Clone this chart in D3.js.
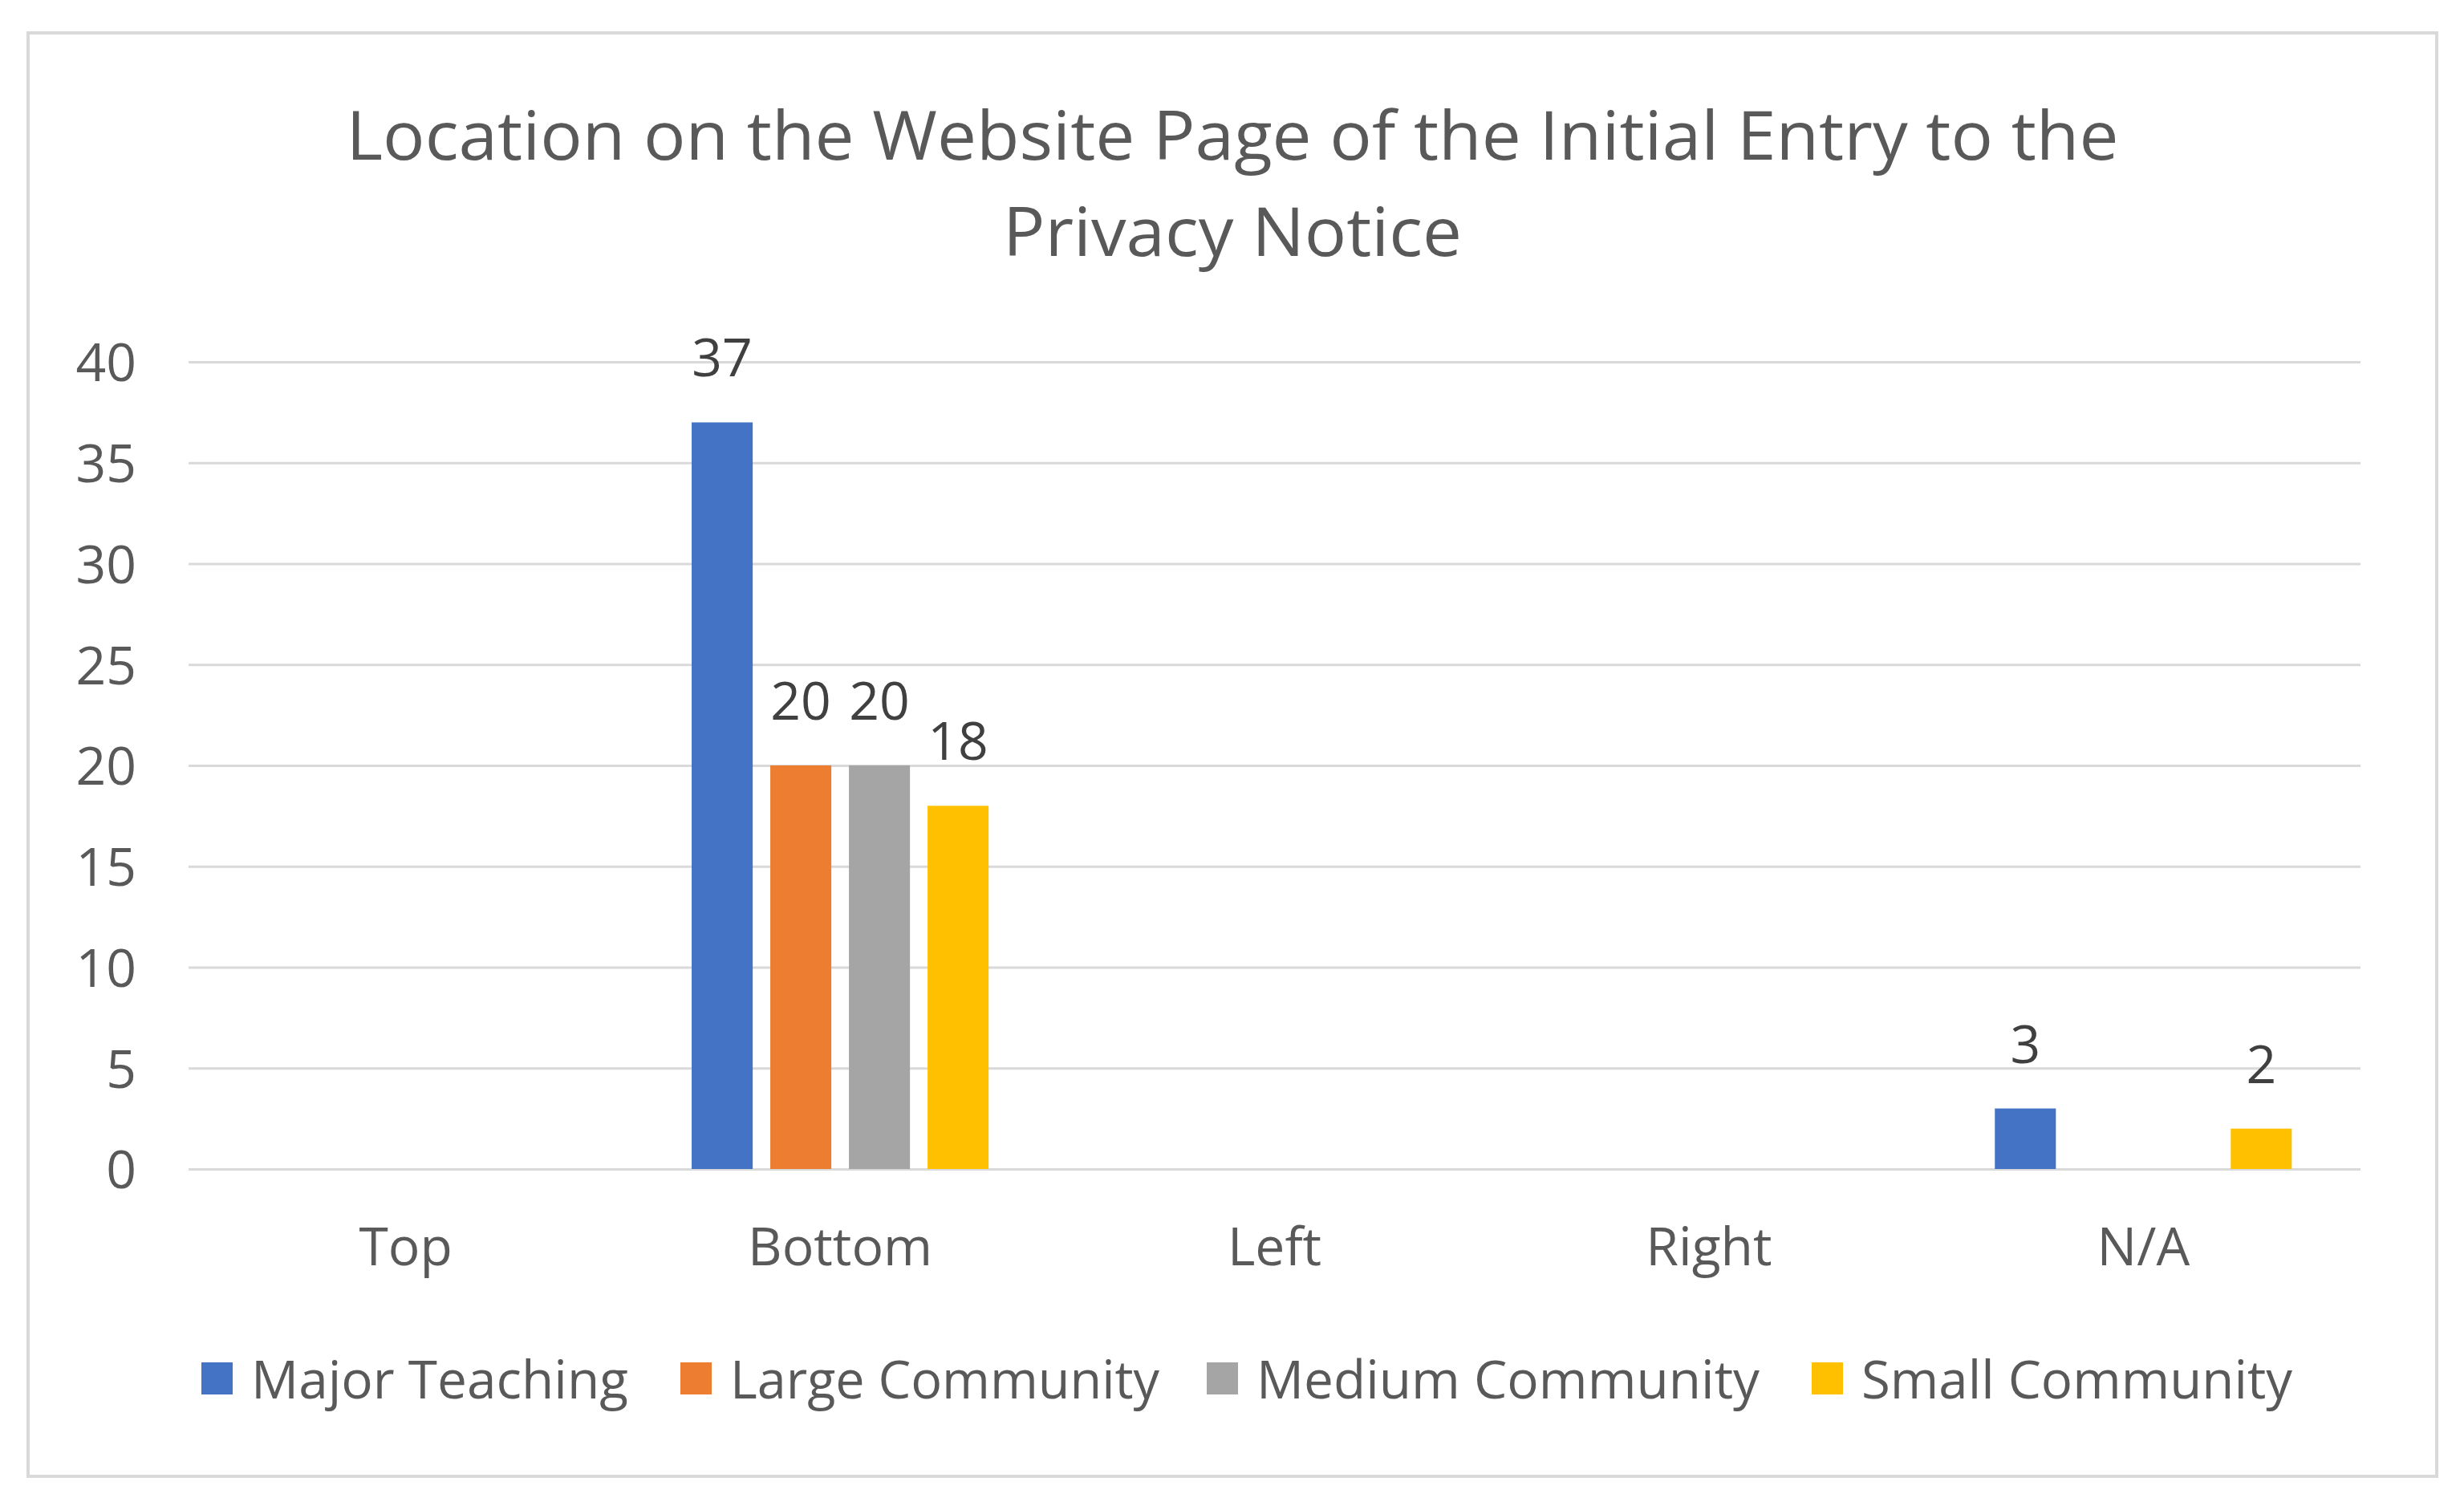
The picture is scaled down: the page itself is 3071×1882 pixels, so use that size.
<!DOCTYPE html>
<html><head><meta charset="utf-8">
<script src="https://cdn.jsdelivr.net/npm/d3@7"></script>
<style>html,body{margin:0;padding:0;background:#fff;}svg{display:block;}</style>
</head><body>
<script>
const categories = ["Top", "Bottom", "Left", "Right", "N/A"];
const seriesNames = ["Major Teaching", "Large Community", "Medium Community", "Small Community"];
const majorTeaching   = [null, 37, null, null, 3];
const largeCommunity  = [null, 20, null, null, null];
const mediumCommunity = [null, 20, null, null, null];
const smallCommunity  = [null, 18, null, null, 2];
const seriesValues = [majorTeaching, largeCommunity, mediumCommunity, smallCommunity];
const colors = ["#4472C4", "#ED7D31", "#A5A5A5", "#FFC000"];
const yTicks = [0, 5, 10, 15, 20, 25, 30, 35, 40];
const titleLines = ["Location on the Website Page of the Initial Entry to the", "Privacy Notice"];

const W = 3071, H = 1882;
const font = "'Open Sans', 'Noto Sans', sans-serif";
const svg = d3.select("body").append("svg").attr("width", W).attr("height", H);
svg.append("rect").attr("x", 0).attr("y", 0).attr("width", W).attr("height", H).attr("fill", "#fff");
svg.append("rect").attr("x", 35).attr("y", 41).attr("width", 3002).attr("height", 1799)
  .attr("fill", "#fff").attr("stroke", "#D9D9D9").attr("stroke-width", 4);

// title
const titleW = [2209, 572];
svg.selectAll("text.title").data(titleLines).join("text")
  .attr("class", "title")
  .attr("x", 1536).attr("y", (d, i) => 199 + i * 120)
  .attr("text-anchor", "middle")
  .attr("font-family", font).attr("font-size", 84).attr("fill", "#595959")
  .attr("textLength", (d, i) => titleW[i]).attr("lengthAdjust", "spacingAndGlyphs")
  .text(d => d);

const plot = {left: 235, right: 2942, top: 451, bottom: 1457};
const y = d3.scaleLinear().domain([0, 40]).range([plot.bottom, plot.top]);
const x0 = d3.scaleBand().domain(categories).range([plot.left, plot.right]).padding(0);
const x1 = d3.scaleBand().domain(seriesNames).range([0, x0.bandwidth()])
  .paddingInner(0.224).paddingOuter(0.874);

// gridlines via axis
const yAxis = d3.axisLeft(y).tickValues(yTicks).tickSize(-(plot.right - plot.left)).tickPadding(65);
const gy = svg.append("g").attr("transform", `translate(${plot.left},0)`).call(yAxis);
gy.select(".domain").remove();
gy.selectAll(".tick line").attr("stroke", "#D9D9D9").attr("stroke-width", 3);
gy.selectAll(".tick text").attr("font-family", font).attr("font-size", 66).attr("fill", "#595959")
  .attr("dy", "0.36em");

// x axis labels
const xAxis = d3.axisBottom(x0).tickSize(0).tickPadding(0);
const gx = svg.append("g").attr("transform", `translate(0,${plot.bottom})`).call(xAxis);
gx.select(".domain").remove();
gx.selectAll(".tick text").attr("font-family", font).attr("font-size", 66).attr("fill", "#595959")
  .attr("dy", null).attr("y", 120);

// bars
const rows = [];
seriesNames.forEach((s, si) => {
  categories.forEach((c, ci) => {
    const v = seriesValues[si][ci];
    if (v != null) rows.push({s, si, c, v});
  });
});
svg.append("g").selectAll("rect").data(rows).join("rect")
  .attr("x", d => x0(d.c) + x1(d.s))
  .attr("y", d => y(d.v))
  .attr("width", x1.bandwidth())
  .attr("height", d => y(0) - y(d.v))
  .attr("fill", d => colors[d.si]);

svg.append("g").selectAll("text").data(rows).join("text")
  .attr("x", d => x0(d.c) + x1(d.s) + x1.bandwidth() / 2)
  .attr("y", d => y(d.v) - 57)
  .attr("text-anchor", "middle")
  .attr("font-family", font).attr("font-size", 66).attr("fill", "#404040")
  .text(d => d.v);

// legend
const legX = [251, 848, 1504, 2258];
const legTextW = [470, 535, 627, 537];
const lg = svg.append("g").selectAll("g").data(seriesNames).join("g")
  .attr("transform", (d, i) => `translate(${legX[i]},1698)`);
lg.append("rect").attr("width", 39).attr("height", 40).attr("fill", (d, i) => colors[i]);
lg.append("text").attr("x", 62).attr("y", 45)
  .attr("font-family", font).attr("font-size", 66).attr("fill", "#595959")
  .attr("textLength", (d, i) => legTextW[i]).attr("lengthAdjust", "spacingAndGlyphs")
  .text(d => d);
</script>
</body></html>
